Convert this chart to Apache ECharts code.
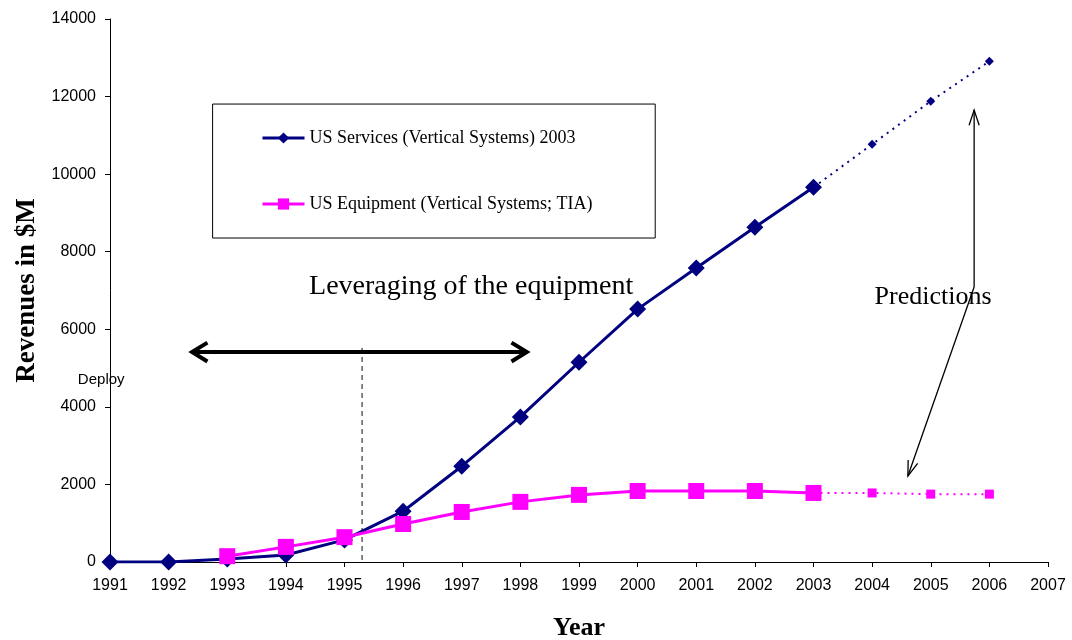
<!DOCTYPE html>
<html>
<head>
<meta charset="utf-8">
<script src="https://cdn.jsdelivr.net/npm/echarts@6/dist/echarts.min.js"></script>
<style>
  html, body { margin: 0; padding: 0; background: #fff; }
  #chart { width: 1072px; height: 640px; }
</style>
</head>
<body>
<div id="chart"></div>
<script>
// years and revenues ($M)
var years = [1991, 1992, 1993, 1994, 1995, 1996, 1997, 1998, 1999, 2000, 2001, 2002, 2003];
var servicesActual = [0, 0, 80, 180, 570, 1310, 2470, 3740, 5150, 6520, 7580, 8630, 9660];
var predYears = [2003, 2004, 2005, 2006];
var servicesPred = [9660, 10770, 11880, 12910];

var equipYears = [1993, 1994, 1995, 1996, 1997, 1998, 1999, 2000, 2001, 2002, 2003];
var equipActual = [150, 390, 640, 980, 1290, 1550, 1730, 1830, 1830, 1830, 1780];
var equipPred = [1780, 1780, 1750, 1750];

var nameServices = "US Services (Vertical Systems) 2003";
var nameEquip = "US Equipment (Vertical Systems; TIA)";

function pairs(xs, ys) {
  return xs.map(function (x, i) { return [x, ys[i]]; });
}
// dotted part: hide the marker on the first (shared) point
function predPairs(xs, ys) {
  return xs.map(function (x, i) {
    return i === 0 ? { value: [x, ys[i]], symbolSize: 0 } : [x, ys[i]];
  });
}

var chart = echarts.init(document.getElementById("chart"));
var serif = "'Liberation Serif', 'Times New Roman', serif";
var sans = "'Liberation Sans', Arial, sans-serif";

chart.setOption({
  animation: false,
  grid: { left: 110, right: 24, top: 19, bottom: 78, containLabel: false, outerBoundsMode: "none" },
  legend: {
    orient: "vertical",
    left: 256,
    top: 124,
    itemWidth: 42,
    itemHeight: 14,
    itemGap: 48,
    data: [nameServices, nameEquip],
    lineStyle: { width: 3 },
    textStyle: { fontFamily: serif, fontSize: 18, color: "#000" }
  },
  xAxis: {
    type: "value",
    min: 1991,
    max: 2007,
    interval: 1,
    name: "Year",
    nameLocation: "middle",
    nameGap: 53,
    nameTextStyle: { fontFamily: serif, fontSize: 26, fontWeight: "bold", color: "#000" },
    axisLine: { lineStyle: { color: "#000", width: 1 } },
    axisTick: { length: 5, lineStyle: { color: "#000" } },
    axisLabel: { fontFamily: sans, fontSize: 16, color: "#000", margin: 16, formatter: function (v) { return String(v); } },
    splitLine: { show: false }
  },
  yAxis: {
    type: "value",
    min: 0,
    max: 14000,
    interval: 2000,
    name: "Revenues in $M",
    nameLocation: "middle",
    nameGap: 67,
    nameTextStyle: { fontFamily: serif, fontSize: 27, fontWeight: "bold", color: "#000" },
    axisLine: { show: true, lineStyle: { color: "#000", width: 1 } },
    axisTick: { show: true, length: 5, lineStyle: { color: "#000" } },
    axisLabel: { fontFamily: sans, fontSize: 16, color: "#000", margin: 14, formatter: function (v) { return String(v); } },
    splitLine: { show: false }
  },
  series: [
    {
      name: nameServices,
      type: "line",
      data: pairs(years, servicesActual),
      symbol: "diamond",
      symbolSize: 17,
      itemStyle: { color: "#000080" },
      lineStyle: { color: "#000080", width: 3 },
      z: 3
    },
    {
      name: "services-pred",
      type: "line",
      data: predPairs(predYears, servicesPred),
      symbol: "diamond",
      symbolSize: 9,
      itemStyle: { color: "#000080" },
      lineStyle: { color: "#000080", width: 2, type: [2, 5] },
      z: 3
    },
    {
      name: nameEquip,
      type: "line",
      data: pairs(equipYears, equipActual),
      symbol: "rect",
      symbolSize: 16,
      itemStyle: { color: "#ff00ff" },
      lineStyle: { color: "#ff00ff", width: 3 },
      z: 4
    },
    {
      name: "equip-pred",
      type: "line",
      data: predPairs(predYears, equipPred),
      symbol: "rect",
      symbolSize: 9,
      itemStyle: { color: "#ff00ff" },
      lineStyle: { color: "#ff00ff", width: 2, type: [2, 5] },
      z: 4
    }
  ]
});

// annotations, placed in data units and converted to pixels
function px(x, y) { return chart.convertToPixel({ gridIndex: 0 }, [x, y]); }

function arrowHead(tip, from, len, spread) {
  var dx = from[0] - tip[0], dy = from[1] - tip[1];
  var d = Math.sqrt(dx * dx + dy * dy);
  var ux = dx / d, uy = dy / d;
  var c = Math.cos(spread), s = Math.sin(spread);
  var a = [tip[0] + len * (ux * c - uy * s), tip[1] + len * (ux * s + uy * c)];
  var b = [tip[0] + len * (ux * c + uy * s), tip[1] + len * (-ux * s + uy * c)];
  return [a, tip, b];
}

var arrowL = px(1992.40, 5414), arrowR = px(1998.11, 5414);
var dashTop = px(1995.30, 5520), dashBot = px(1995.30, 0);
var predMid = px(2005.74, 7090), predUp = px(2005.74, 11653), predDown = px(2004.61, 2217);
var legTL = px(1992.75, 11807), legBR = px(2000.30, 8353);
var levText = px(1997.16, 7090), predText = px(2005.04, 6832);
var deployText = px(1990.85, 4700);

var thin = { stroke: "#000", lineWidth: 1.3, fill: null };
var thick = { stroke: "#000", lineWidth: 4, fill: null };

chart.setOption({
  graphic: [
    {
      type: "rect", z: 1,
      shape: { x: legTL[0], y: legTL[1], width: legBR[0] - legTL[0], height: legBR[1] - legTL[1] },
      style: { fill: "#fff", stroke: "#000", lineWidth: 1 }
    },
    { type: "line", z: 2, shape: { x1: dashTop[0], y1: dashTop[1], x2: dashBot[0], y2: dashBot[1] },
      style: { stroke: "#444", lineWidth: 1.3, lineDash: [5, 4] } },
    { type: "line", z: 5, shape: { x1: arrowL[0], y1: arrowL[1], x2: arrowR[0], y2: arrowR[1] }, style: thick },
    { type: "polyline", z: 5, shape: { points: arrowHead(arrowL, arrowR, 18, 0.55) }, style: thick },
    { type: "polyline", z: 5, shape: { points: arrowHead(arrowR, arrowL, 18, 0.55) }, style: thick },
    { type: "line", z: 5, shape: { x1: predMid[0], y1: predMid[1], x2: predUp[0], y2: predUp[1] }, style: thin },
    { type: "polyline", z: 5, shape: { points: arrowHead(predUp, predMid, 16, 0.32) }, style: thin },
    { type: "line", z: 5, shape: { x1: predMid[0], y1: predMid[1], x2: predDown[0], y2: predDown[1] }, style: thin },
    { type: "polyline", z: 5, shape: { points: arrowHead(predDown, predMid, 16, 0.32) }, style: thin },
    { type: "text", z: 6, x: levText[0], y: levText[1],
      style: { text: "Leveraging of the equipment", font: "28px " + serif, fill: "#000", align: "center", verticalAlign: "middle" } },
    { type: "text", z: 6, x: predText[0], y: predText[1],
      style: { text: "Predictions", font: "26px " + serif, fill: "#000", align: "center", verticalAlign: "middle" } },
    { type: "text", z: 6, x: deployText[0], y: deployText[1],
      style: { text: "Deploy", font: "15px " + sans, fill: "#000", align: "center", verticalAlign: "middle" } }
  ]
});
</script>
</body>
</html>
